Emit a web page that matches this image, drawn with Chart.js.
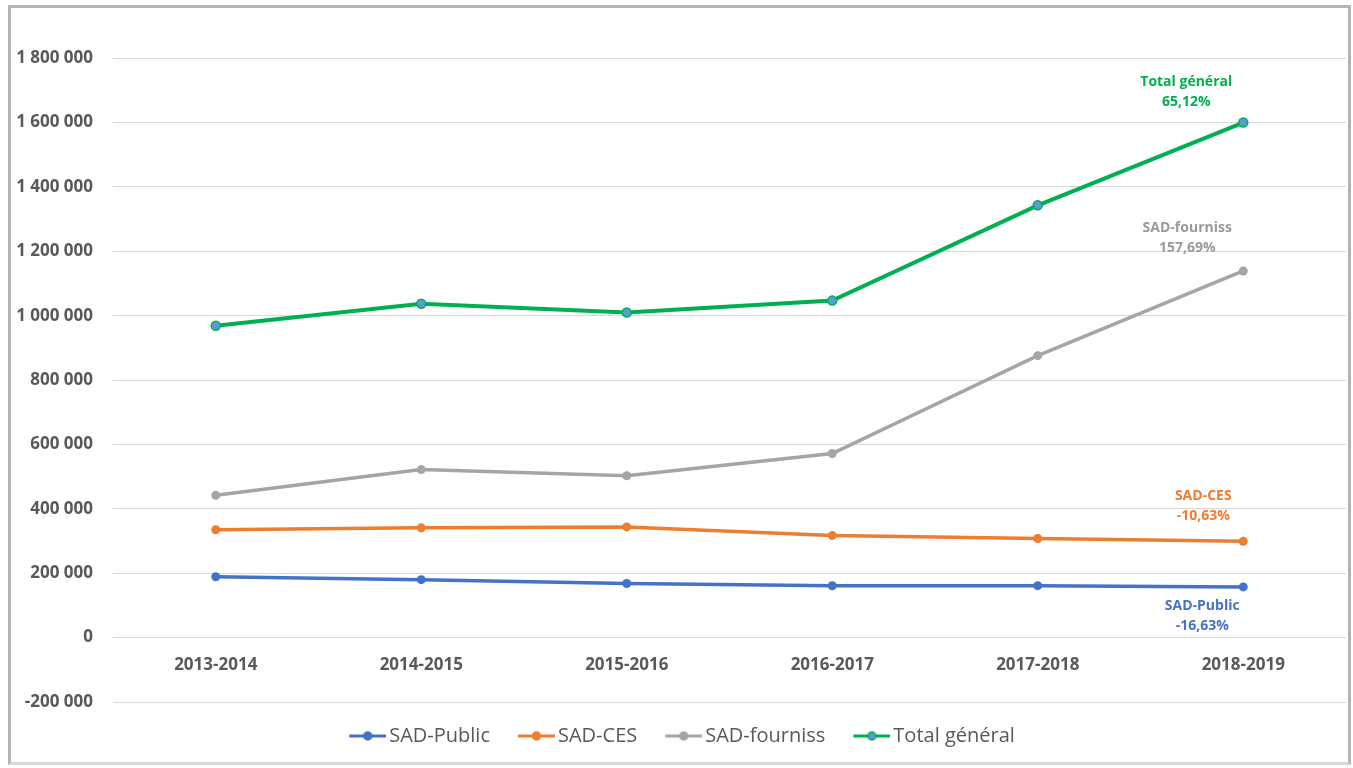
<!DOCTYPE html>
<html><head><meta charset="utf-8">
<script src="https://cdn.jsdelivr.net/npm/chart.js@4.4.0/dist/chart.umd.min.js"></script>
<style>
html,body{margin:0;padding:0;background:#fff;}
#wrap{position:relative;width:1353px;height:768px;overflow:hidden;background:#fff;}
#frame{position:absolute;left:8px;top:5px;width:1343px;height:760px;box-sizing:border-box;border:3px solid #b4b4b4;border-bottom-color:#d9d9d9;}
canvas{position:absolute;left:0;top:0;}
</style></head>
<body>
<div id="wrap"><div id="frame"></div><canvas id="c" width="1353" height="768"></canvas></div>
<script>
const categories = ['2013-2014','2014-2015','2015-2016','2016-2017','2017-2018','2018-2019'];
const sadPublic   = [189000, 180000, 168000, 161000, 161500, 157500];
const sadCes      = [335000, 341000, 344000, 317000, 308000, 299000];
const sadFourniss = [442000, 522000, 503000, 572000, 876000, 1139000];
const totalGeneral= [969000, 1037000, 1010000, 1047000, 1343000, 1600000];
const seriesNames = ['SAD-Public','SAD-CES','SAD-fourniss','Total général'];
const endLabels = [['SAD-Public','-16,63%'],['SAD-CES','-10,63%'],['SAD-fourniss','157,69%'],['Total général','65,12%']];
const yTickValues = [-200000,0,200000,400000,600000,800000,1000000,1200000,1400000,1600000,1800000];

const colors = ['#4472C4','#ED7D31','#A5A5A5','#00B050'];
const pointFills = ['#4472C4','#ED7D31','#A5A5A5','#5B9BD5'];
const labelColors = ['#4472C4','#ED7D31','#9a9a9a','#00B050'];
const labelOffsets = [{dx:-41,dy:19},{dx:-40,dy:-45},{dx:-56,dy:-43},{dx:-57,dy:-41}];

function fmt(v){
  const s = Math.abs(v).toString().replace(/\B(?=(\d{3})+(?!\d))/g,' ');
  return (v<0?'-':'')+s;
}
const P = 34, W = 48, LL = 37;
function marker(i){
  const c = document.createElement('canvas'); c.width = W; c.height = 12;
  const x = c.getContext('2d');
  x.strokeStyle = colors[i]; x.lineWidth = 3;
  x.beginPath(); x.moveTo(W-LL,6); x.lineTo(W,6); x.stroke();
  x.beginPath(); x.arc(W-LL/2,6,4,0,Math.PI*2); x.fillStyle = pointFills[i]; x.fill();
  x.lineWidth=1.5; x.strokeStyle=colors[i]; x.stroke();
  return c;
}
const markers = [0,1,2,3].map(marker);

const series = [sadPublic, sadCes, sadFourniss, totalGeneral];
const datasets = series.map((d,i)=>({
  label: seriesNames[i], data: d,
  borderColor: colors[i], backgroundColor: pointFills[i],
  pointBackgroundColor: pointFills[i], pointBorderColor: colors[i],
  pointBorderWidth: i===3?1.5:0, pointRadius: 4.5, pointHoverRadius: 4.5,
  borderWidth: i===3?4:3.5, tension: 0
}));

const endLabelPlugin = {
  id:'endLabels',
  afterLayout(chart){
    const l = chart.legend;
    if (l) { l.left += 7; l.right += 7; }
  },
  afterDatasetsDraw(chart){
    const ctx = chart.ctx;
    ctx.save();
    ctx.font = 'bold 14px "Open Sans"';
    ctx.textAlign = 'center'; ctx.textBaseline = 'middle';
    chart.data.datasets.forEach((ds,i)=>{
      const meta = chart.getDatasetMeta(i);
      const pt = meta.data[meta.data.length-1];
      ctx.fillStyle = labelColors[i];
      endLabels[i].forEach((t,j)=>{
        ctx.fillText(t, pt.x + labelOffsets[i].dx, pt.y + labelOffsets[i].dy + j*20);
      });
    });
    ctx.restore();
  }
};

new Chart(document.getElementById('c'), {
  type:'line',
  data:{labels: categories, datasets},
  options:{
    responsive:false, animation:false,
    layout:{padding:{left:0,right:7,top:9,bottom:12}},
    plugins:{
      tooltip:{enabled:false},
      legend:{
        position:'bottom',
        labels:{
          usePointStyle:true, pointStyleWidth:P, padding:24,
          color:'#595959', font:{family:'"Open Sans"', size:20},
          generateLabels(chart){
            return chart.data.datasets.map((ds,i)=>({
              text: ds.label, pointStyle: markers[i], fontColor:'#595959',
              datasetIndex:i, hidden:false, lineWidth:0,
              strokeStyle:'rgba(0,0,0,0)', fillStyle:'rgba(0,0,0,0)'
            }));
          }
        }
      }
    },
    scales:{
      x:{
        axis:'x', type:'category', offset:true, position:{y:0},
        grid:{display:false}, border:{display:false},
        ticks:{color:'#595959', font:{family:'"Open Sans"', size:17, weight:'bold'}, padding:9, maxRotation:0, autoSkip:false},
        afterFit(s){ s.height = 0; }
      },
      y:{
        min:-200000, max:1887000,
        grid:{color:'#d9d9d9', lineWidth:1, drawTicks:false},
        border:{display:false},
        afterBuildTicks(s){ s.ticks = yTickValues.map(v=>({value:v})); },
        afterFit(s){ s.width = 113; },
        ticks:{color:'#595959', font:{family:'"Open Sans"', size:17, weight:'bold'}, padding:20, callback:v=>fmt(v)}
      }
    }
  },
  plugins:[endLabelPlugin]
});
</script>
</body></html>
